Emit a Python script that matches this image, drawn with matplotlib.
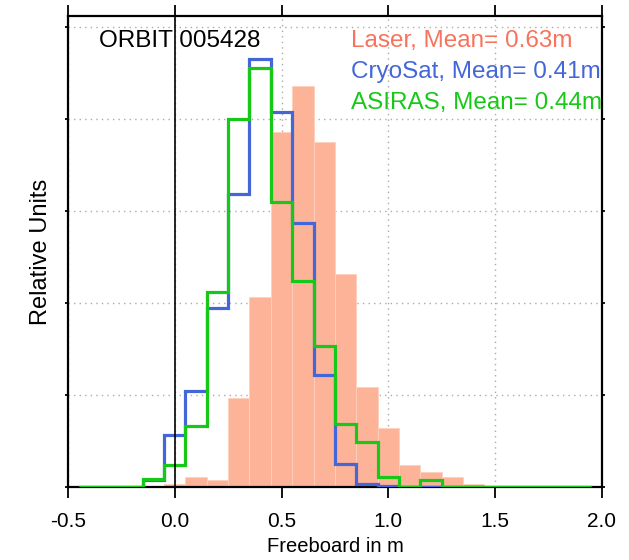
import matplotlib
matplotlib.use('Agg')
import matplotlib.pyplot as plt
import numpy as np

matplotlib.rcParams['font.family'] = ['Liberation Sans', 'DejaVu Sans']

# bin edges (0.1 m bins centred on -0.4 ... 1.9)
edges = np.round(np.arange(-0.45, 2.0, 0.1), 2)

laser = [0, 0, 0, 0, 0.04, 0.11, 0.076, 0.97, 2.07, 3.86, 4.36, 3.75,
         2.32, 1.09, 0.64, 0.24, 0.16, 0.11, 0.03, 0.01, 0, 0, 0, 0]
cryosat = [0, 0, 0, 0.08, 0.565, 1.05, 1.95, 3.19, 4.65, 4.08, 2.87, 1.22,
           0.25, 0.04, 0.01, 0, 0, 0, 0, 0, 0, 0, 0, 0]
asiras = [0, 0, 0, 0.085, 0.24, 0.66, 2.12, 4.0, 4.56, 3.10, 2.24, 1.54,
          0.69, 0.49, 0.11, 0, 0.08, 0, 0, 0, 0, 0, 0, 0]

labels = ['Laser, Mean= 0.63m', 'CryoSat, Mean= 0.41m', 'ASIRAS, Mean= 0.44m']
text_colors = ['#f8735c', '#4466d8', '#18c818']
orbit = 'ORBIT 005428'

fig = plt.figure(figsize=(6.29, 5.6), dpi=100)
ax = fig.add_axes([0.108, 0.130, 0.849, 0.841])

centers = (edges[:-1] + edges[1:]) / 2
ax.bar(centers, laser, width=0.1, color='#fdb398', edgecolor='#ffd0bd',
       linewidth=0.6, zorder=2)
ax.stairs(cryosat, edges, color='#4466d8', lw=2.3, zorder=3)
ax.stairs(asiras, edges, color='#18c818', lw=2.3, zorder=4)
ax.axvline(0, color='black', lw=1.2, zorder=5)

ax.set_xlim(-0.5, 2.0)
ax.set_ylim(0, 5.12)
ax.set_xticks([-0.5, 0.0, 0.5, 1.0, 1.5, 2.0])
ax.set_xticklabels(['-0.5', '0.0', '0.5', '1.0', '1.5', '2.0'])
ax.set_yticks([0, 1, 2, 3, 4, 5])
ax.set_yticklabels([])
ax.tick_params(axis='x', direction='out', length=8, width=1.3, labelsize=15,
               pad=10, top=True)
ax.tick_params(axis='y', direction='out', length=2, width=1.3, right=True)
ax.set_axisbelow(True)
ax.grid(True, linestyle=(0, (1, 3)), color='#aaaaaa', lw=1.0)
for s in ax.spines.values():
    s.set_linewidth(1.6)

ax.set_xlabel('Freeboard in m', fontsize=14.5, labelpad=4)
ax.set_ylabel('Relative Units', fontsize=17, labelpad=6)

ax.text(0.058, 0.948, orbit, transform=ax.transAxes, fontsize=17.5,
        va='center', ha='left', zorder=6)
for i, (lab, c) in enumerate(zip(labels, text_colors)):
    ax.text(0.531, 0.948 - i * 0.066, lab, transform=ax.transAxes,
            fontsize=17.5, color=c, va='center', ha='left', zorder=6)

plt.savefig('out.png', dpi=100)
